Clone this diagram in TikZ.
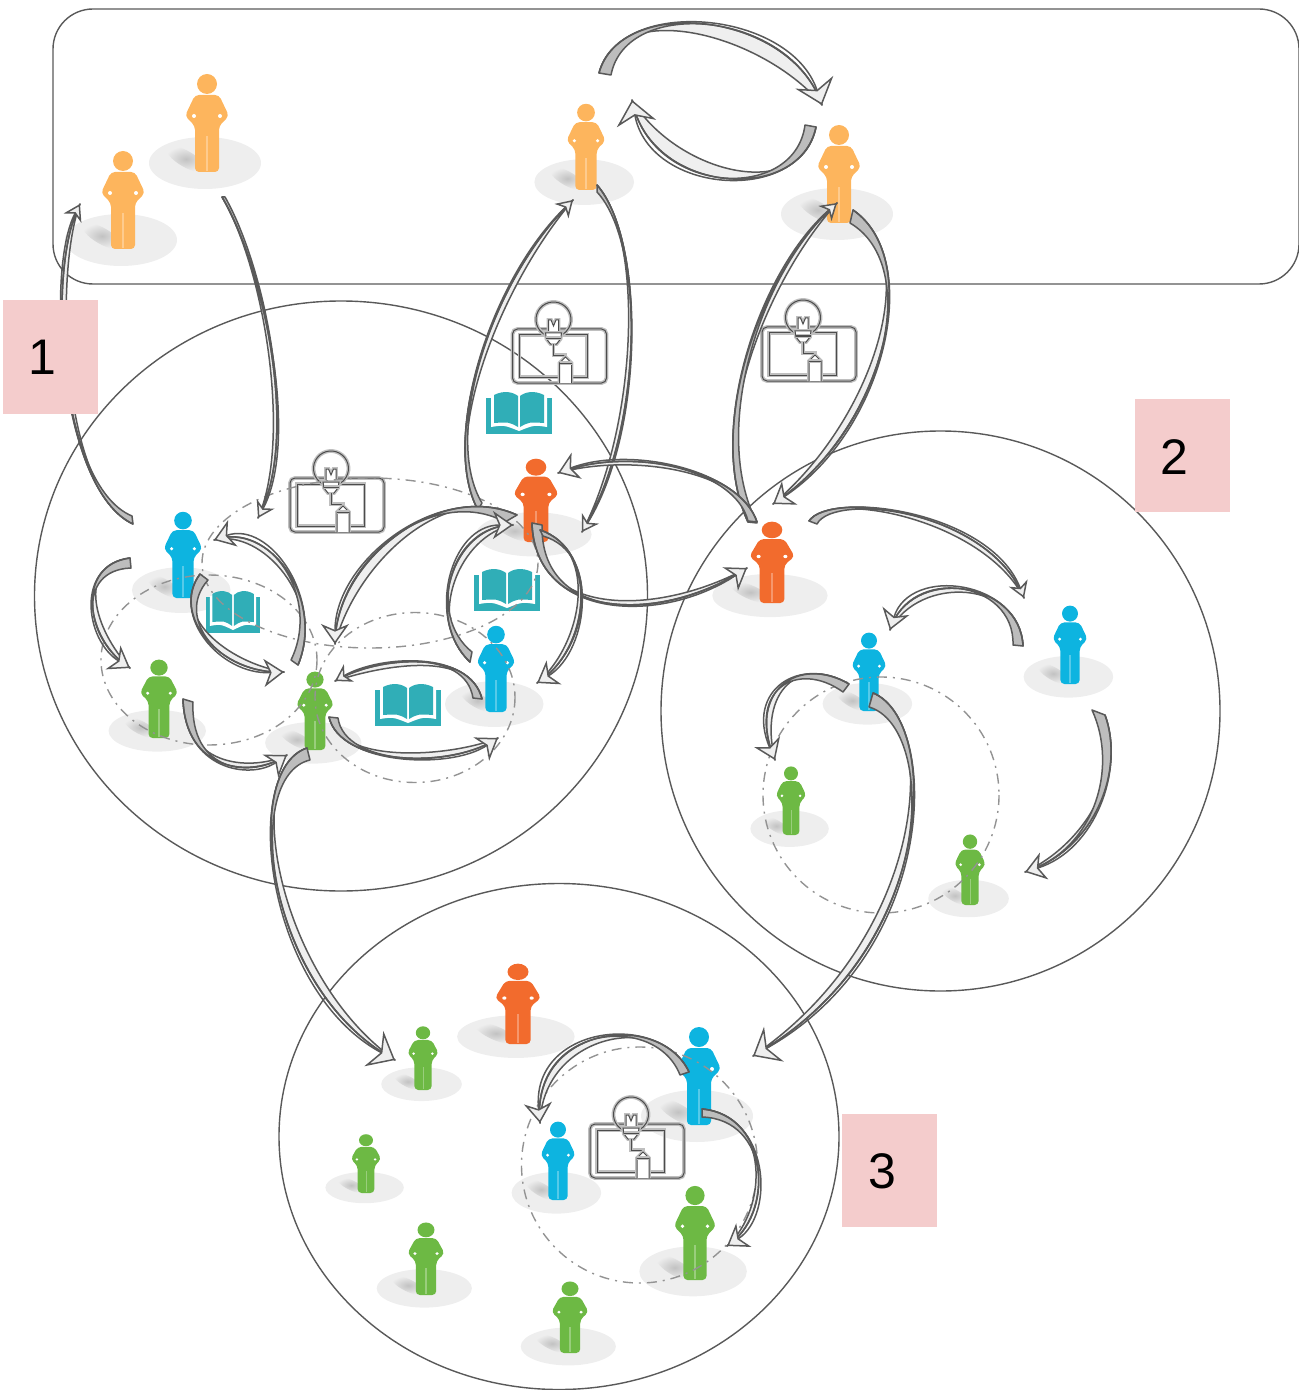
\documentclass[tikz,border=0pt]{standalone}
\usepackage{fontspec}
\setmainfont{Liberation Sans}
\usetikzlibrary{arrows.meta,calc}

\definecolor{personlight}{HTML}{FDB55D}
\definecolor{persondeep}{HTML}{F26B2D}
\definecolor{personblue}{HTML}{0DB4E0}
\definecolor{persongreen}{HTML}{6DB944}
\definecolor{floorgray}{HTML}{EEEEEE}
\definecolor{bookteal}{HTML}{30AEB7}
\definecolor{taggray}{HTML}{F4CCCC}
\definecolor{swooshgray}{HTML}{BDBDBD}
\definecolor{swooshlight}{HTML}{EFEFEF}
\definecolor{linegray}{HTML}{595959}

\tikzset{
  ring/.style={draw=linegray,line width=0.7pt},
  dashring/.style={draw=gray!85,line width=0.7pt,dash pattern=on 5pt off 3pt on 1pt off 3pt},
  swooshline/.style={draw=linegray,line width=0.75pt,line join=round},
  headS/.style={-{Stealth[length=8pt,width=10pt,inset=2.5pt,fill=swooshlight]}},
  headM/.style={-{Stealth[length=10pt,width=14pt,inset=3pt,fill=swooshlight]}},
  headL/.style={-{Stealth[length=12pt,width=20pt,inset=4pt,fill=swooshlight]}},
  tagbox/.style={fill=taggray,minimum width=47.5pt,minimum height=56.5pt,inner sep=0pt},
  tagnum/.style={font=\fontsize{25}{25}\selectfont,inner sep=0pt},
  idealine/.style={draw=black!70,line width=0.5pt,preaction={draw=gray!50,line width=1.9pt}},
  pics/person/.style={code={
    \fill[floorgray] (-2,-9) ellipse [x radius=56,y radius=26];
    \shade[inner color=black!24,outer color=floorgray,shift={(-21,-13)},rotate=-30] (0,0) ellipse [x radius=22,y radius=8];
    \fill[#1] (0,-88) circle [radius=10];
    \fill[#1,rounded corners=2pt] (-12,-77) -- (12,-77) -- (22,-56) -- (12,-46) -- (12,0) -- (-12,0) -- (-12,-46) -- (-22,-56) -- cycle;
    \fill[#1!70!white] (-0.7,-36) rectangle (0.7,-1);
    \fill[white] (-13,-56) circle [radius=2] (13,-56) circle [radius=2];
  }},
  pics/book/.style={code={
    \fill[bookteal] (-33,-15) rectangle (33,21);
    \fill[white] (-28,-16) -- (-28,14) .. controls (-15,12) .. (0,18) .. controls (15,12) .. (28,14) -- (28,-16) -- cycle;
    \fill[bookteal] (-1,14) .. controls (-10,9) .. (-25,10) -- (-25,-18) .. controls (-15,-23) and (-6,-21) .. (-1,-17) -- cycle;
    \fill[bookteal] (1,14) .. controls (10,9) .. (25,10) -- (25,-18) .. controls (15,-23) and (6,-21) .. (1,-17) -- cycle;
  }},
  pics/idea/.style={code={
    \draw[idealine,rounded corners=2.5pt] (-47,-27) rectangle (47,27);
    \draw[idealine] (-40,-21) rectangle (27.5,21);
    \draw[idealine] (-14.5,-21.2) arc [start angle=119,end angle=421,radius=17.5];
    \draw[idealine,fill=white] (-11,-23) -- (-11,-36) -- (-8.5,-36) -- (-6,-30) -- (-3.5,-36) -- (-1,-36) -- (-1,-23);
    \draw[idealine,fill=white] (-14,-23) -- (2,-23) -- (1,-17) -- (-3,-12) -- (-9,-12) -- (-13,-17) -- cycle;
    \draw[idealine] (-13.5,-18) -- (1.5,-18);
    \draw[idealine] (-6,-12) -- (-6,-1) -- (6,-1) -- (6,2);
    \draw[idealine,fill=white] (0,27) -- (0,7) -- (6,1) -- (12,7) -- (12,27);
    \draw[idealine] (0,7) -- (12,7);
  }}
}

% tail end, two control points, tip, tail width, head bulge, head style
\newcommand{\swoosh}[7]{%
  \draw[swooshline,fill=swooshlight] (#1) .. controls (#2) and (#3) .. (#4) .. controls ($(#3)+1.6*(#6)$) and (#2) .. (#1) -- cycle;
  \draw[swooshline,fill=swooshgray] (#1) .. controls (#2) and (#3) .. (#4) .. controls (#3) and ($(#2)+0.5*(#5)$) .. ($(#1)+(#5)$) -- cycle;
  \draw[swooshline,#7] (#1) .. controls (#2) and (#3) .. (#4);
}

\begin{document}
\begin{tikzpicture}[x=0.5pt,y=-0.5pt]
\useasboundingbox (0,0) rectangle (1298,1390);

% outer shapes
\draw[ring,rounded corners=20pt] (53,9) rectangle (1299,284);
\draw[ring] (341,596) ellipse [x radius=306.5,y radius=295];
\draw[ring] (940.5,711) ellipse [x radius=279.5,y radius=280];
\draw[ring] (559,1136.5) ellipse [x radius=280,y radius=253];

% people
\pic at (123,249) {person=personlight};
\pic at (207,172) {person=personlight};
\pic[xscale=.89,yscale=.88] at (586,190) {person=personlight};
\pic at (839,223) {person=personlight};
\pic[xscale=1.03,yscale=.85] at (536,542) {person=persondeep};
\pic[xscale=1.03,yscale=.83] at (772,603) {person=persondeep};
\pic[xscale=1.05,yscale=.82] at (518,1044) {person=persondeep};
\pic[scale=.88] at (183,598) {person=personblue};
\pic[scale=.88] at (496,712) {person=personblue};
\pic[scale=.8] at (869,711) {person=personblue};
\pic[scale=.8] at (1070,684) {person=personblue};
\pic at (699,1125) {person=personblue};
\pic[scale=.8] at (558,1200) {person=personblue};
\pic[xscale=.87,yscale=.8] at (159,738) {person=persongreen};
\pic[xscale=.86,yscale=.8] at (315,750) {person=persongreen};
\pic[scale=.7] at (791,835) {person=persongreen};
\pic[scale=.72] at (970,905) {person=persongreen};
\pic[xscale=.72,yscale=.65] at (423,1090) {person=persongreen};
\pic[xscale=.7,yscale=.6] at (366,1193) {person=persongreen};
\pic[xscale=.85,yscale=.74] at (426,1295) {person=persongreen};
\pic[xscale=.85,yscale=.73] at (570,1353) {person=persongreen};
\pic[scale=.96] at (695,1280) {person=persongreen};

% books and ideas
\pic at (519,413) {book};
\pic[xscale=.83] at (233,612) {book};
\pic at (507,590) {book};
\pic at (408,705) {book};
\pic at (559.5,356) {idea};
\pic at (809,354) {idea};
\pic at (337,505) {idea};
\pic at (637,1151) {idea};

% groups
\draw[dashring] (209,660) ellipse [x radius=108,y radius=85];
\draw[dashring] (370,563) ellipse [x radius=168,y radius=85];
\draw[dashring] (415,697.5) ellipse [x radius=100,y radius=85];
\draw[dashring] (881,795) circle [radius=118];
\draw[dashring] (639.5,1165) circle [radius=118];

% exchanges
\coordinate (s1) at (599,73); \coordinate (e1) at (822,105);
\swoosh{s1}{620,-5}{790,10}{e1}{12,2}{-16,16}{headL}
\coordinate (s2) at (816,127); \coordinate (e2) at (632,100);
\swoosh{s2}{800,205}{650,195}{e2}{-11,-2}{16,-14}{headL}
\coordinate (s3) at (133,524); \coordinate (e3) at (80,204);
\swoosh{s3}{60,490}{45,270}{e3}{-1,-8}{6,0}{headS}
\coordinate (s4) at (222,197); \coordinate (e4) at (258,518);
\swoosh{s4}{265,270}{300,440}{e4}{3,0}{-5,0}{headS}
\coordinate (s5) at (478,510); \coordinate (e5) at (573,200);
\swoosh{s5}{440,440}{490,280}{e5}{4,-7}{6,4}{headS}
\coordinate (s6) at (597,185); \coordinate (e6) at (582,532);
\swoosh{s6}{645,240}{645,430}{e6}{0,7}{-5,-2}{headS}
\coordinate (s7) at (748,522); \coordinate (e7) at (837,203);
\swoosh{s7}{705,430}{760,270}{e7}{9,1}{6,4}{headS}
\coordinate (s8) at (853,210); \coordinate (e8) at (773,504);
\swoosh{s8}{925,260}{885,430}{e8}{-3,13}{-8,-6}{headM}
\coordinate (s9) at (757,522); \coordinate (e9) at (558,473);
\swoosh{s9}{740,470}{630,445}{e9}{-9,-1}{0,5}{headM}
\coordinate (s10) at (532,523); \coordinate (e10) at (747,568);
\swoosh{s10}{535,620}{660,625}{e10}{10,2}{0,-6}{headM}
\coordinate (s11) at (809,521); \coordinate (e11) at (1024,598);
\swoosh{s11}{830,490}{990,510}{e11}{8,3}{-5,5}{headS}
\coordinate (s12) at (1023,646); \coordinate (e12) at (890,630);
\swoosh{s12}{1020,580}{910,565}{e12}{-10,-1}{6,6}{headM}
\coordinate (s13) at (1105,715); \coordinate (e13) at (1025,872);
\swoosh{s13}{1125,770}{1095,850}{e13}{-13,-5}{-4,-5}{headM}
\coordinate (s14) at (849,684); \coordinate (e14) at (775,760);
\swoosh{s14}{800,655}{745,690}{e14}{-6,8}{8,0}{headM}
\coordinate (s15) at (873,693); \coordinate (e15) at (753,1056);
\swoosh{s15}{940,720}{940,950}{e15}{-4,14}{-8,-8}{headL}
\coordinate (s16) at (307,748); \coordinate (e16) at (395,1060);
\swoosh{s16}{240,770}{265,990}{e16}{3,12}{8,-8}{headL}
\coordinate (s17) at (689,1072); \coordinate (e17) at (540,1123);
\swoosh{s17}{660,1010}{530,1025}{e17}{-9,3}{8,6}{headM}
\coordinate (s18) at (702,1109); \coordinate (e18) at (727,1246);
\swoosh{s18}{770,1115}{775,1215}{e18}{0,8}{-4,-4}{headM}
\coordinate (s19) at (130,558); \coordinate (e19) at (130,668);
\swoosh{s19}{75,565}{85,640}{e19}{1,10}{6,-6}{headM}
\coordinate (s20) at (183,699); \coordinate (e20) at (287,755);
\swoosh{s20}{185,770}{250,780}{e20}{10,3}{3,-6}{headM}
\coordinate (s21) at (298,665); \coordinate (e21) at (214,540);
\swoosh{s21}{325,600}{270,520}{e21}{-7,-5}{-5,5}{headM}
\coordinate (s22) at (200,574); \coordinate (e22) at (284,672);
\swoosh{s22}{170,615}{220,675}{e22}{8,6}{4,-8}{headM}
\coordinate (s23) at (517,515); \coordinate (e23) at (335,644);
\swoosh{s23}{440,480}{335,560}{e23}{-12,7}{12,5}{headM}
\coordinate (s24) at (470,662); \coordinate (e24) at (513,525);
\swoosh{s24}{425,620}{450,525}{e24}{2,-10}{6,6}{headM}
\coordinate (s25) at (540,530); \coordinate (e25) at (537,683);
\swoosh{s25}{600,550}{590,650}{e25}{3,6}{-5,-3}{headM}
\coordinate (s26) at (482,699); \coordinate (e26) at (335,681);
\swoosh{s26}{470,650}{380,655}{e26}{-9,-1}{3,6}{headS}
\coordinate (s27) at (329,717); \coordinate (e27) at (498,738);
\swoosh{s27}{340,765}{450,770}{e27}{9,1}{0,-8}{headM}

% tags
\node[tagbox] (tag1) at (50.5,357) {};
\node[tagbox] (tag2) at (1182.5,455.5) {};
\node[tagbox] (tag3) at (889.5,1170.5) {};
\node[tagnum] (num1) at (42,357) {1};
\node[tagnum] (num2) at (1174,457) {2};
\node[tagnum] (num3) at (882,1171) {3};
\end{tikzpicture}
\end{document}
